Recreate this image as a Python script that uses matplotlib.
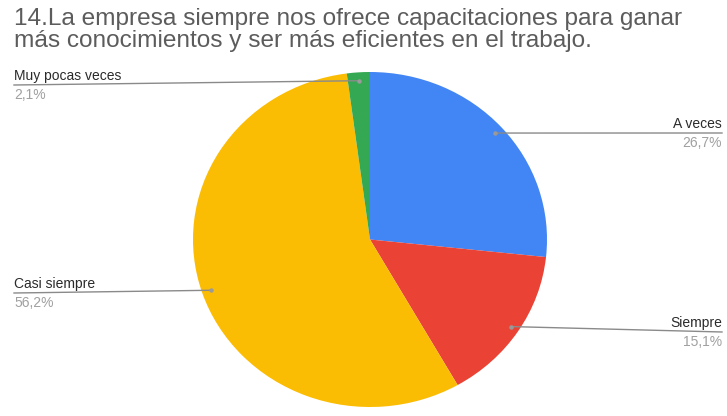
import numpy as np
import matplotlib
matplotlib.use("Agg")
import matplotlib.pyplot as plt

plt.rcParams['font.family'] = ['Liberation Sans', 'DejaVu Sans']

title = "14.La empresa siempre nos ofrece capacitaciones para ganar\nmás conocimientos y ser más eficientes en el trabajo."
categories = ["A veces", "Siempre", "Casi siempre", "Muy pocas veces"]
values = [26.7, 15.1, 56.2, 2.1]
pct_labels = ["26,7%", "15,1%", "56,2%", "2,1%"]
colors = ["#4285F4", "#EA4335", "#FBBC04", "#34A853"]

W, H = 727, 416
fig = plt.figure(figsize=(W / 100, H / 100), dpi=100)

def fx(px):
    return px / W

def fy(py):
    return 1 - py / H

# pie area in pixels: left, right, top, bottom
pl, pr, pt, pb = 193, 547, 72, 407
ax = fig.add_axes([fx(pl), fy(pb), fx(pr - pl), (pb - pt) / H])
wedges, _ = ax.pie(values, colors=colors, startangle=90, counterclock=False,
                   radius=1.0, wedgeprops=dict(linewidth=0))
ax.set_aspect('auto')
ax.set_xlim(-1, 1)
ax.set_ylim(-1, 1)
ax.axis('off')

fig.text(fx(14), fy(8), title, ha='left', va='top', fontsize=17.6,
         color='#5c5c5c', linespacing=1.0)

# label layout: (side, label x in px, underline y in px)
layout = {
    "A veces": ("right", 722, 133),
    "Siempre": ("right", 722, 332),
    "Casi siempre": ("left", 14, 293),
    "Muy pocas veces": ("left", 14, 85),
}

total = sum(values)
start = 90.0
for cat, val, pct in zip(categories, values, pct_labels):
    span = 360.0 * val / total
    mid = np.deg2rad(start - span / 2)
    start -= span
    ax_pt = (0.95 * np.cos(mid), 0.95 * np.sin(mid))
    disp = ax.transData.transform(ax_pt)
    fig_pt = fig.transFigure.inverted().transform(disp)
    side, lx, ly = layout[cat]
    ha = 'left' if side == 'left' else 'right'
    fig.add_artist(plt.Line2D([fx(lx), fig_pt[0]], [fy(ly), fig_pt[1]],
                              transform=fig.transFigure, color='#8a8a8a',
                              linewidth=1.0))
    fig.add_artist(plt.Line2D([fig_pt[0]], [fig_pt[1]], transform=fig.transFigure,
                              marker='o', markersize=2.2, color='#9a9a9a',
                              linestyle='none'))
    fig.text(fx(lx), fy(ly - 2), cat, ha=ha, va='bottom', fontsize=10,
             color='#2a2a2a')
    fig.text(fx(lx), fy(ly + 3), pct, ha=ha, va='top', fontsize=10,
             color='#a0a0a0')

fig.savefig("out.png", dpi=100)
